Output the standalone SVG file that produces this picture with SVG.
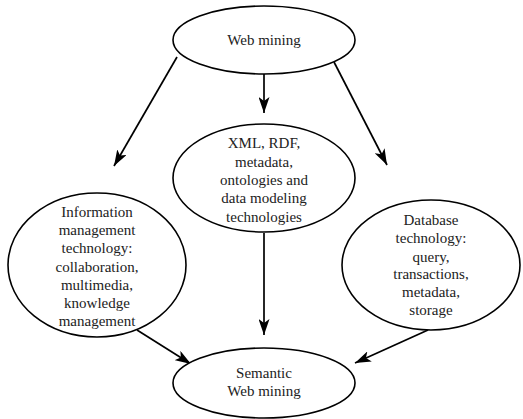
<svg xmlns="http://www.w3.org/2000/svg" width="523" height="419" viewBox="0 0 523 419">
<style>
.n ellipse{fill:#fff;stroke:#000;stroke-width:1.6}
.n text{font-family:'Liberation Serif','DejaVu Serif','Times New Roman',serif;font-size:15px;fill:#222;text-anchor:middle}
.c line{stroke:#000;stroke-width:1.7;marker-end:url(#ah)}
</style>
<defs>
<marker id="ah" viewBox="0 0 16 11" refX="16" refY="5.5" markerWidth="16" markerHeight="11" markerUnits="userSpaceOnUse" orient="auto">
<path d="M0,0 L16,5.5 L0,11 L4,5.5 Z" fill="#000"/>
</marker>
</defs>
<g class="c">
<line x1="264" y1="74" x2="264" y2="113"/>
<line x1="177" y1="57" x2="114" y2="166"/>
<line x1="334" y1="62" x2="387" y2="165"/>
<line x1="264" y1="233" x2="264" y2="335"/>
<line x1="137" y1="330" x2="191" y2="364"/>
<line x1="428" y1="330" x2="355" y2="363"/>
</g>
<g class="n" id="web">
<ellipse cx="264" cy="40" rx="91" ry="34"/>
<text x="264" y="45">Web mining</text>
</g>
<g class="n" id="xml">
<ellipse cx="264" cy="178" rx="91" ry="54"/>
<text x="264" y="148">XML, RDF,</text>
<text x="264" y="167">metadata,</text>
<text x="264" y="185">ontologies and</text>
<text x="264" y="203">data modeling</text>
<text x="264" y="222">technologies</text>
</g>
<g class="n" id="info">
<ellipse cx="97" cy="265" rx="89" ry="72"/>
<text x="97" y="217">Information</text>
<text x="97" y="235">management</text>
<text x="97" y="253">technology:</text>
<text x="97" y="272">collaboration,</text>
<text x="97" y="290">multimedia,</text>
<text x="97" y="308">knowledge</text>
<text x="97" y="326">management</text>
</g>
<g class="n" id="db">
<ellipse cx="431" cy="265" rx="89" ry="65"/>
<text x="431" y="225">Database</text>
<text x="431" y="243">technology:</text>
<text x="431" y="262">query,</text>
<text x="431" y="279">transactions,</text>
<text x="431" y="297">metadata,</text>
<text x="431" y="315">storage</text>
</g>
<g class="n" id="sem">
<ellipse cx="264" cy="383" rx="91" ry="35"/>
<text x="264" y="378">Semantic</text>
<text x="264" y="396">Web mining</text>
</g>
</svg>
